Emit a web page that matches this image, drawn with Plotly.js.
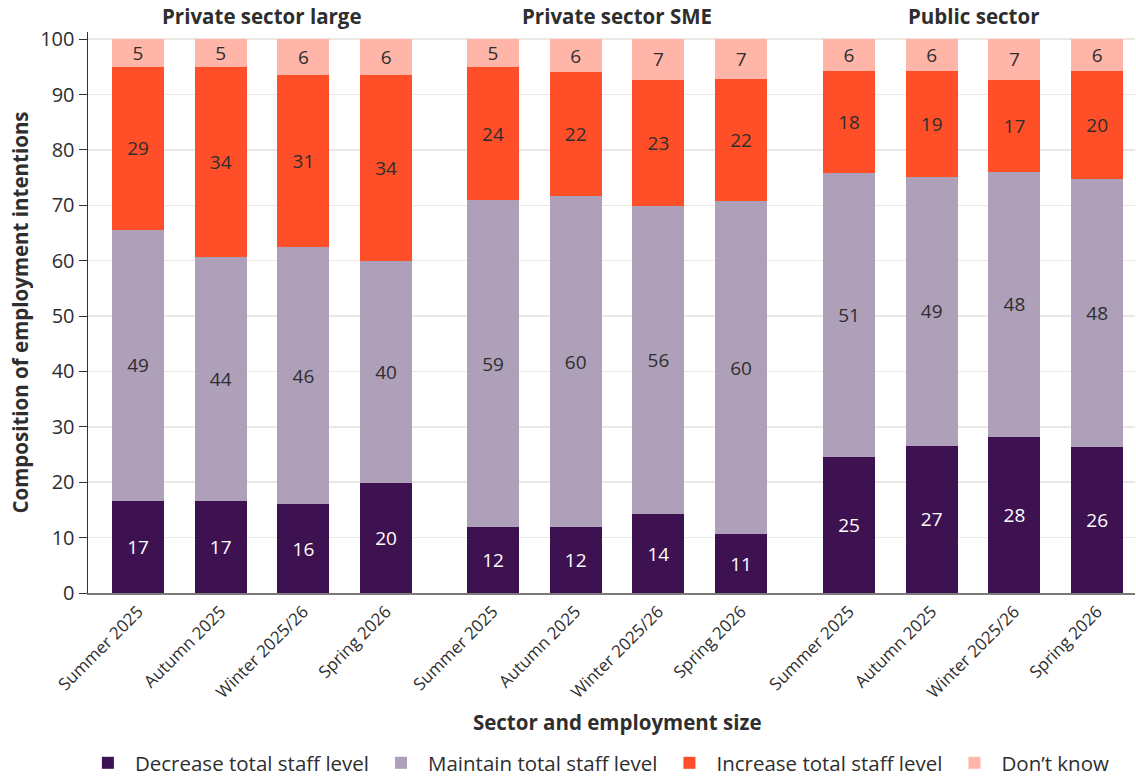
<!DOCTYPE html>
<html>
<head>
<meta charset="utf-8">
<script src="https://cdn.plot.ly/plotly-3.0.1.min.js"></script>
<style>html,body{margin:0;padding:0;background:#fff}#chart{width:1136px;height:778px}</style>
</head>
<body>
<div id="chart"></div>
<script>
// ---- data ----
const sectors = ["Private sector large", "Private sector SME", "Public sector"];
const periods = ["Summer 2025", "Autumn 2025", "Winter 2025/26", "Spring 2026"];
// values per sector (4 periods each), in sector order above
const decrease = [16.6, 16.7, 16.0, 19.8,  11.9, 11.9, 14.2, 10.6,  24.6, 26.6, 28.1, 26.3];
const maintain = [49.0, 43.9, 46.4, 40.1,  59.0, 59.8, 55.6, 60.1,  51.2, 48.6, 48.0, 48.4];
const increase = [29.4, 34.3, 31.2, 33.7,  24.0, 22.4, 22.9, 22.2,  18.4, 19.0, 16.6, 19.5];
const dontKnow = [5.0, 5.1, 6.4, 6.4,  5.1, 5.9, 7.3, 7.1,  5.8, 5.8, 7.3, 5.8];
const seriesNames = ["Decrease total staff level", "Maintain total staff level", "Increase total staff level", "Don\u2019t know"];

// ---- styling ----
const FONT = "'Open Sans', sans-serif";
const TXT = "#2e2e2e";
const series = [
  {name: seriesNames[0], vals: decrease, color: "#3e1151", tcolor: "#ffffff"},
  {name: seriesNames[1], vals: maintain, color: "#afa0b9", tcolor: TXT},
  {name: seriesNames[2], vals: increase, color: "#ff4f28", tcolor: TXT},
  {name: seriesNames[3], vals: dontKnow, color: "#ffb5a7", tcolor: TXT}
];
const axKeys = ["x", "x2", "x3"];

const traces = [];
series.forEach(s => {
  sectors.forEach((sec, g) => {
    traces.push({
      type: "bar",
      name: s.name,
      legendgroup: s.name,
      showlegend: g === 0,
      x: periods,
      y: s.vals.slice(g * 4, g * 4 + 4),
      xaxis: axKeys[g],
      yaxis: "y",
      width: 0.63,
      marker: {color: s.color, line: {width: 0}},
      texttemplate: "%{y:.0f}",
      textposition: "inside",
      insidetextanchor: "middle",
      textangle: 0,
      textfont: {family: FONT, size: 19, color: s.tcolor},
      hoverinfo: "name+y"
    });
  });
});

const domains = [[0, 0.3357], [0.3357, 0.6753], [0.6753, 1.0]];
const ranges = [[-0.605, 3.646], [-0.647, 3.652], [-0.653, 3.458]];

function xax(g) {
  const a = {
    domain: domains[g],
    range: ranges[g],
    type: "category",
    anchor: "y",
    automargin: false,
    showgrid: false,
    showline: true,
    linecolor: "#7a7a7a",
    linewidth: 2,
    ticks: "",
    tickangle: -45,
    tickfont: {family: FONT, size: 17, color: TXT},
    zeroline: false,
    fixedrange: true
  };
  if (g === 1) {
    a.title = {text: "<b>Sector and employment size</b>", font: {family: FONT, size: 20.5, color: TXT}, standoff: 14};
  }
  return a;
}

const annotations = sectors.map((sec, g) => ({
  text: "<b>" + sec + "</b>",
  xref: axKeys[g], yref: "paper",
  x: 1.5, y: 1, yanchor: "bottom", xanchor: "center",
  yshift: 0,
  showarrow: false,
  font: {family: FONT, size: 20.5, color: TXT}
}));

const layout = {
  width: 1136, height: 778,
  margin: {l: 88, r: 1, t: 32, b: 185, autoexpand: false},
  paper_bgcolor: "#ffffff",
  plot_bgcolor: "#ffffff",
  barmode: "stack",
  font: {family: FONT, color: TXT},
  xaxis: xax(0), xaxis2: xax(1), xaxis3: xax(2),
  yaxis: {
    range: [0, 101.3],
    tickvals: [0, 10, 20, 30, 40, 50, 60, 70, 80, 90, 100],
    automargin: false,
    showgrid: true,
    gridcolor: "#ece7e3",
    gridwidth: 1.5,
    zeroline: false,
    showline: true,
    linecolor: "#333333",
    linewidth: 1.5,
    ticks: "outside",
    ticklen: 8,
    tickcolor: "#333333",
    tickfont: {family: FONT, size: 20, color: TXT},
    title: {text: "<b>Composition of employment intentions</b>", font: {family: FONT, size: 20.5, color: TXT}, standoff: 6},
    fixedrange: true
  },
  uniformtext: {minsize: 19, mode: "show"},
  showlegend: true,
  legend: {
    orientation: "h",
    traceorder: "normal",
    x: 0.487, xanchor: "center",
    y: -0.303, yanchor: "middle",
    font: {family: FONT, size: 20.5, color: TXT},
    itemwidth: 44
  },
  annotations: annotations
};

Plotly.newPlot("chart", traces, layout, {displayModeBar: false, staticPlot: true});
</script>
</body>
</html>
